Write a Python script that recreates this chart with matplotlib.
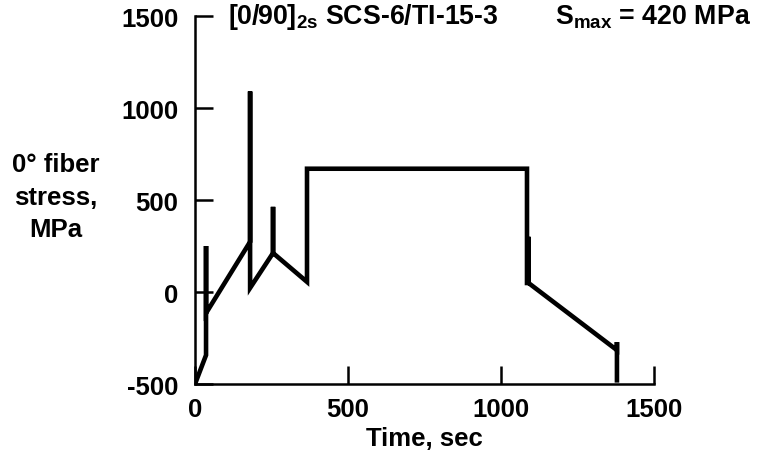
import matplotlib
matplotlib.use("Agg")
import matplotlib.pyplot as plt

plt.rcParams['font.family'] = ['Liberation Sans', 'DejaVu Sans']
plt.rcParams['font.weight'] = 'bold'
plt.rcParams['axes.unicode_minus'] = False
plt.rcParams['mathtext.fontset'] = 'custom'
plt.rcParams['mathtext.rm'] = 'Liberation Sans:bold'
plt.rcParams['mathtext.bf'] = 'Liberation Sans:bold'

# fiber stress history
time_s = [0, 36, 36, 36, 180, 180, 180, 255, 255, 255, 366, 366,
          1085, 1085, 1090, 1090, 1090, 1379, 1379, 1379]
stress_mpa = [-500, -343, 250, -115, 273, 1090, 22, 212, 463, 212, 55, 670,
              670, 49, 49, 300, 49, -316, -272, -480]

xticks = [0, 500, 1000, 1500]
yticks = [-500, 0, 500, 1000, 1500]

fs = 18.5

fig = plt.figure(figsize=(7.63, 4.56), dpi=100)
ax = fig.add_axes([0.2556, 0.1557, 0.6015, 0.807])

ax.plot(time_s, stress_mpa, color='black', lw=3.3, solid_joinstyle='miter')

ax.set_xlim(0, 1500)
ax.set_ylim(-500, 1500)
ax.set_xticks(xticks)
ax.set_yticks(yticks)
ax.tick_params(direction='in', length=13, width=1.8, labelsize=fs)
ax.tick_params(axis='x', pad=9)
ax.tick_params(axis='y', pad=12)
for lbl in ax.get_xticklabels() + ax.get_yticklabels():
    lbl.set_fontweight('bold')
for s in ['top', 'right']:
    ax.spines[s].set_visible(False)
for s in ['left', 'bottom']:
    ax.spines[s].set_linewidth(1.8)

ax.set_xlabel('Time, sec', fontsize=fs, fontweight='bold', labelpad=4)
fig.text(0.073, 0.566, '0° fiber\nstress,\nMPa', fontsize=fs, fontweight='bold',
         ha='center', va='center', linespacing=1.45)

fig.text(0.299, 0.963, r'[0/90]$_{\mathbf{2s}}$ SCS-6/TI-15-3', fontsize=19.3,
         fontweight='bold', va='center')
fig.text(0.728, 0.963, r'S$_{\mathbf{max}}$ = 420 MPa', fontsize=19.3,
         fontweight='bold', va='center')

fig.savefig('out.png', dpi=100)
